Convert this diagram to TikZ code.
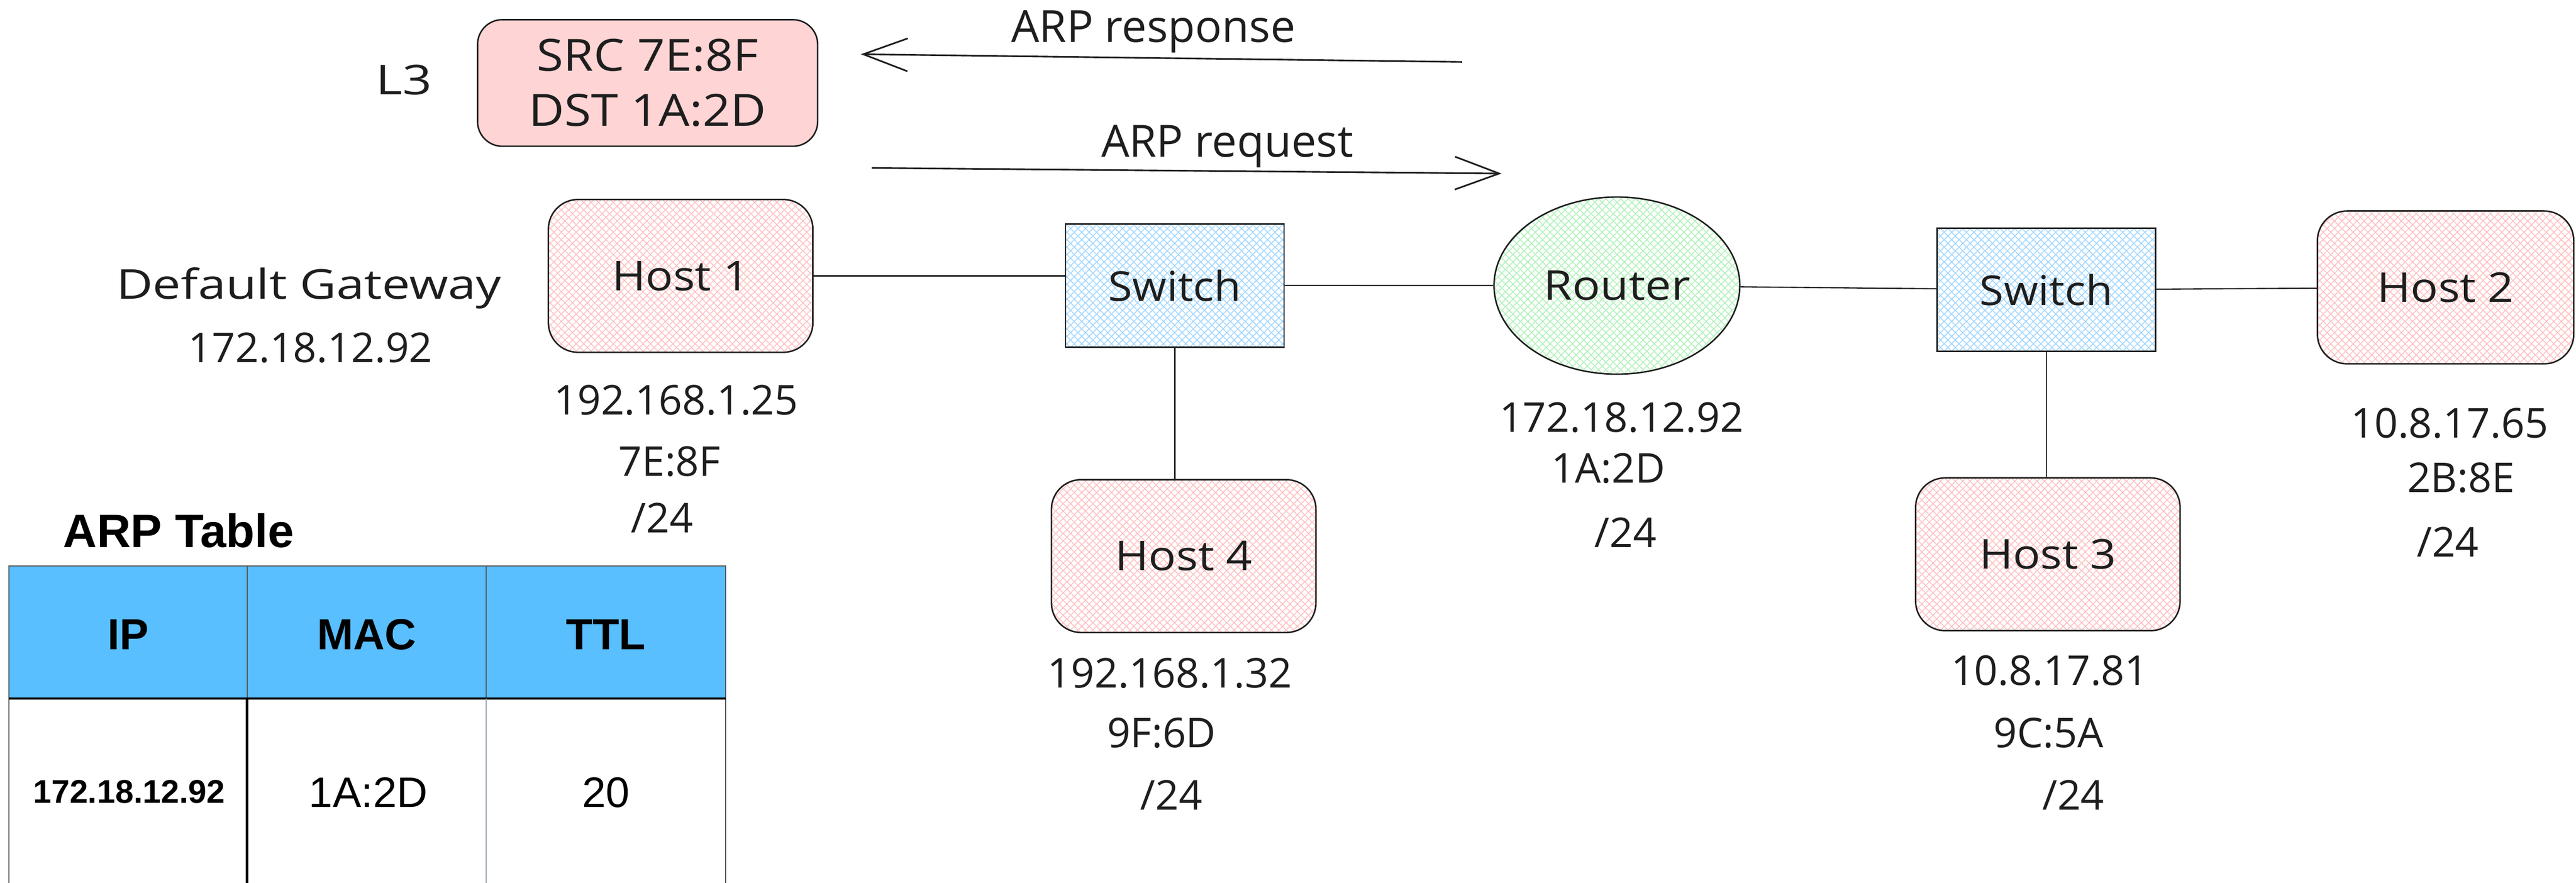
\documentclass[tikz,border=0pt]{standalone}
\usepackage{fontspec}
\usepackage{graphicx}
\setmainfont{Open Sans}
\newfontfamily\tabfont{Liberation Sans}
\usetikzlibrary{arrows.meta,patterns.meta,shapes.geometric}
\definecolor{ink}{HTML}{1E1E1E}
\definecolor{hpink}{HTML}{FFC2C2}
\definecolor{hblue}{HTML}{A5D8FF}
\definecolor{hgreen}{HTML}{B2F2BB}
\definecolor{boxpink}{HTML}{FFD4D4}
\definecolor{thead}{HTML}{59BFFF}
\definecolor{tgray}{HTML}{555A5E}
\definecolor{tlight}{HTML}{9AA6B2}
\newcommand\handfont{\fontsize{25}{30}\selectfont}
\newcommand\arrowfont{\fontsize{27}{32}\selectfont}
\newcommand\widetxt[2]{\scalebox{#1}[1]{#2}}
\tikzset{
  hatch/.style={
    preaction={pattern={Lines[angle=45,distance=3.2pt,line width=0.55pt]},pattern color=#1},
    preaction={pattern={Lines[angle=-45,distance=3.2pt,line width=0.55pt]},pattern color=#1}},
  host/.style={draw=ink,line width=0.9pt,rounded corners=18pt,minimum width=161pt,
    minimum height=93pt,inner sep=0pt,hatch=hpink,font=\handfont,text=ink},
  switchbox/.style={draw=ink,line width=0.9pt,minimum width=133pt,minimum height=75pt,
    inner sep=0pt,hatch=hblue,font=\handfont,text=ink},
  routernode/.style={ellipse,draw=ink,line width=0.9pt,minimum width=149.6pt,
    minimum height=107.8pt,inner sep=0pt,hatch=hgreen,font=\handfont,text=ink},
  lbl/.style={anchor=base,font=\handfont,text=ink,inner sep=0pt},
  link/.style={draw=ink,line width=0.75pt},
  msg/.style={draw=ink,line width=1pt,-{Straight Barb[length=27pt,width=20pt]}},
  tabtxt/.style={anchor=base,inner sep=0pt,text=black},
}
\begin{document}
\begin{tikzpicture}[x=1pt,y=-1pt]
\useasboundingbox (0,0) rectangle (1568,537.3);

% network nodes
\node[host] (h1) at (414.3,167.9) {\widetxt{1.11}{Host 1}};
\node[switchbox] (sw1) at (715.1,173.7) {\widetxt{1.07}{Switch}};
\node[routernode] (rt) at (984.2,173.8) {\widetxt{1.13}{Router}};
\node[switchbox] (sw2) at (1245.5,176.4) {\widetxt{1.07}{Switch}};
\node[host,minimum width=156pt] (h2) at (1488.6,174.9) {\widetxt{1.11}{Host 2}};
\node[host] (h4) at (720.5,338.4) {\widetxt{1.11}{Host 4}};
\node[host] (h3) at (1246.5,337.3) {\widetxt{1.11}{Host 3}};

% packet box
\node[draw=ink,line width=0.9pt,fill=boxpink,rounded corners=15pt,minimum width=207pt,
  minimum height=77pt,inner sep=0pt,align=center,text=ink,
  font=\fontsize{27}{33.5}\selectfont] (pkt) at (394.2,50.5) {\widetxt{1.1}{SRC 7E:8F}\\\widetxt{1.1}{DST 1A:2D}};
\node[lbl] (l3) at (245.8,57.7) {\widetxt{1.25}{L3}};

% links
\draw[link] (h1.east) -- (h1.east -| sw1.west);
\draw[link] (sw1) -- (rt);
\draw[link] (rt) -- (sw2);
\draw[link] (sw2) -- (h2);
\draw[link] (sw1.south) -- (sw1.south |- h4.north);
\draw[link] (sw2.south) -- (sw2.south |- h3.north);

% ARP messages
\coordinate (respS) at (890,37.7);
\coordinate (respE) at (524,33);
\draw[msg] (respS) -- (respE);
\node[lbl,font=\arrowfont] (resplbl) at (702,25.6) {ARP response};
\coordinate (reqS) at (530.6,102.2);
\coordinate (reqE) at (914,105.6);
\draw[msg] (reqS) -- (reqE);
\node[lbl,font=\arrowfont] (reqlbl) at (747,95.4) {ARP request};

% labels
\node[lbl] (dg) at (188,182) {\widetxt{1.22}{Default Gateway}};
\node[lbl] (dgip) at (189,220.6) {172.18.12.92};

\node[lbl] (h1ip) at (411.5,252.5) {192.168.1.25};
\node[lbl] (h1mac) at (407.5,289.6) {7E:8F};
\node[lbl] (h1m) at (403,324.2) {/24};

\node[lbl] (rtip) at (987,263) {172.18.12.92};
\node[lbl] (rtmac) at (979,294) {1A:2D};
\node[lbl] (rtm) at (989.5,333) {/24};

\node[lbl] (h4ip) at (712,418.7) {192.168.1.32};
\node[lbl] (h4mac) at (707,455) {9F:6D};
\node[lbl] (h4m) at (713,492.7) {/24};

\node[lbl] (h3ip) at (1247.6,417) {10.8.17.81};
\node[lbl] (h3mac) at (1247,455) {9C:5A};
\node[lbl] (h3m) at (1262,492.7) {/24};

\node[lbl] (h2ip) at (1491,266.4) {10.8.17.65};
\node[lbl] (h2mac) at (1498,299.7) {2B:8E};
\node[lbl] (h2m) at (1490,338.8) {/24};

% ARP table
\node[tabtxt,font=\tabfont\bfseries\fontsize{28.5}{34}\selectfont] (ttitle) at (108.7,333) {ARP Table};
\fill[thead] (5.4,344.4) rectangle (441.6,425.1);
\draw[tgray,line width=0.8pt] (5.4,545) -- (5.4,344.4) -- (441.6,344.4) -- (441.6,545);
\draw[tgray,line width=0.6pt] (150.4,344.4) -- (150.4,425.1);
\draw[tgray,line width=0.6pt] (295.9,344.4) -- (295.9,425.1);
\draw[black,line width=1.1pt] (5.4,425.1) -- (441.6,425.1);
\draw[black,line width=1.4pt] (150.4,425.1) -- (150.4,545);
\draw[tlight,line width=0.6pt] (295.9,425.1) -- (295.9,545);

\node[tabtxt,font=\tabfont\bfseries\fontsize{26.5}{32}\selectfont] (thip) at (78,395.3) {IP};
\node[tabtxt,font=\tabfont\bfseries\fontsize{26.5}{32}\selectfont] (thmac) at (223.2,395.3) {MAC};
\node[tabtxt,font=\tabfont\bfseries\fontsize{26.5}{32}\selectfont] (thttl) at (368.8,395.3) {TTL};
\node[tabtxt,font=\tabfont\bfseries\fontsize{20}{24}\selectfont] (tdip) at (78.6,488.8) {172.18.12.92};
\node[tabtxt,font=\tabfont\fontsize{26}{31}\selectfont] (tdmac) at (224.2,491.3) {1A:2D};
\node[tabtxt,font=\tabfont\fontsize{26}{31}\selectfont] (tdttl) at (368.8,491.3) {20};
\end{tikzpicture}
\end{document}
